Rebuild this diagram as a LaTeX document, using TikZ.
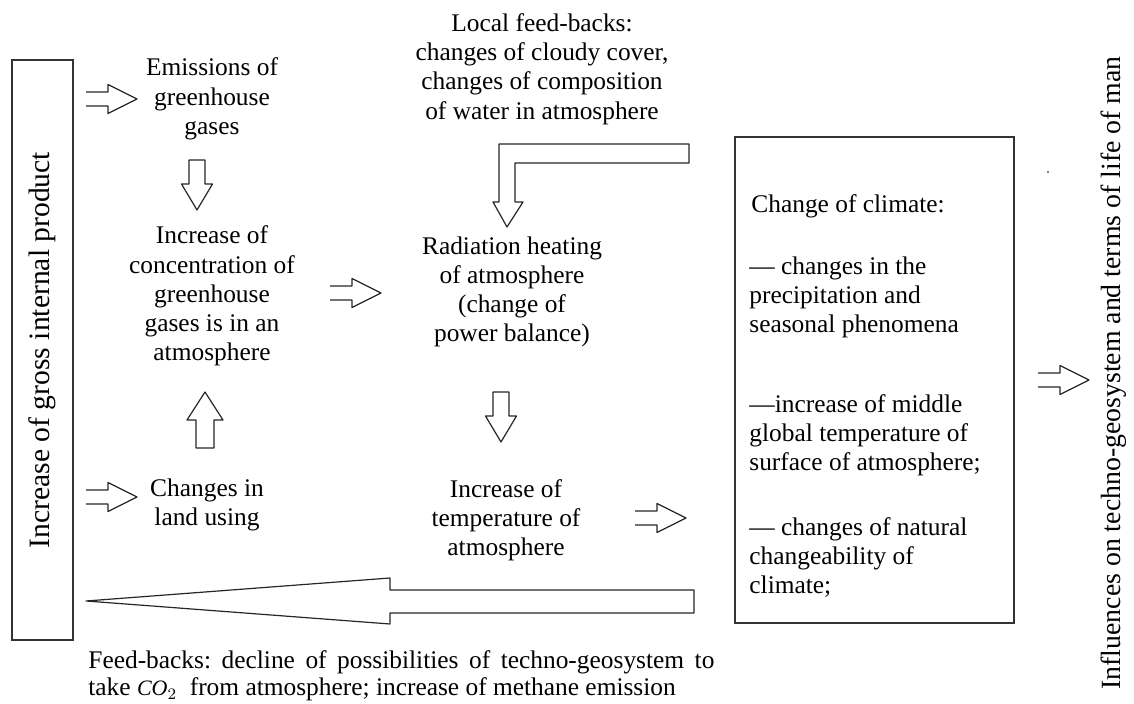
\documentclass[tikz,border=0pt]{standalone}
\usepackage{fontspec}
\setmainfont{Liberation Serif}
\usetikzlibrary{calc}
\frenchspacing
\newcommand{\openright}[1]{\draw[blk] (#1) ++(0,-7) -- ++(22,0) -- ++(0,-7.5) -- ++(29,14.5) -- ++(-29,14.5) -- ++(0,-7.5) -- ++(-22,0);}
\newcommand{\blockdown}[1]{\draw[blk] (#1) -- ++(8,0) -- ++(0,24) -- ++(7.5,0) -- ++(-15.5,26) -- ++(-15.5,-26) -- ++(7.5,0) -- ++(0,-24) -- cycle;}
\newcommand{\blockup}[1]{\draw[blk] (#1) -- ++(9,0) -- ++(0,-28) -- ++(9,0) -- ++(-18,-28) -- ++(-18,28) -- ++(9,0) -- ++(0,28) -- cycle;}
\begin{document}
\begin{tikzpicture}[x=0.5pt,y=-0.5pt,
		txt/.style={align=center,inner sep=0pt,font=\fontsize{12.7}{14.6}\selectfont},
		side/.style={rotate=90,inner sep=0pt,font=\fontsize{14.8}{17}\selectfont},
		frame/.style={draw=black!80,line width=0.8pt},
		blk/.style={draw=black!85,line width=0.6pt,line join=round}]
		\useasboundingbox (0,0) rectangle (1134,704);
		
		% left and right frames
		\node[frame,minimum width=30.5pt,minimum height=290pt] (gdp) at (42.5,350) {};
		\node[side] (gdptxt) at (gdp.center) {Increase of gross internal product};
		\node[frame,minimum width=139.5pt,minimum height=243pt] (clim) at (874.5,380) {};
		\node[side,font=\fontsize{13.9}{16}\selectfont] (infl) at (1114,373) {Influences on techno-geosystem and terms of life of man};
		\fill (1048,172) circle (0.8);
		
		% text blocks
		\node[txt] (emis)  at (212,99)  {Emissions of\\greenhouse\\gases};
		\node[txt] (conc)  at (212,296) {Increase of\\concentration of\\greenhouse\\gases is in an\\atmosphere};
		\node[txt] (land)  at (207,505) {Changes in\\land using};
		\node[txt] (local) at (542,69)  {Local feed-backs:\\changes of cloudy cover,\\changes of composition\\of water in atmosphere};
		\node[txt] (rad)   at (512,292) {Radiation heating\\of atmosphere\\(change of\\power balance)};
		\node[txt] (temp)  at (506,520) {Increase of\\temperature of\\atmosphere};
		
		\node[txt,align=left,anchor=north west] (cc1) at (751,194) {Change of climate:};
		\node[txt,align=left,anchor=north west] (cc2) at (749,256) {— changes in the\\precipitation and\\seasonal phenomena};
		\node[txt,align=left,anchor=north west] (cc3) at (749,394) {—increase of middle\\global temperature of\\surface of atmosphere;};
		\node[txt,align=left,anchor=north west] (cc4) at (749,517) {— changes of natural\\changeability of\\climate;};
		
		\node[txt,align=left,anchor=north west,font=\fontsize{12.7}{13.8}\selectfont] (fb) at (88,650)
		{\makebox[313pt][s]{Feed-backs: decline of possibilities of techno-geosystem to}\\take {\fontsize{11}{12}\selectfont$\mathit{CO}_2$}\ \ from atmosphere; increase of methane emission};
		
		% block arrows
		\openright{86,99}
		\openright{86,497}
		\openright{330,293}
		\openright{635,518}
		\openright{1038,380}
		\blockdown{197,160}
		\blockdown{501,392}
		\blockup{205,448}
		\draw[blk] (689,144) -- (499,144) -- (499,202) -- (493,202) -- (507,227) -- (523,202) -- (515,202) -- (515,163) -- (689,163) -- cycle;
		\draw[blk] (694,590) -- (390,590) -- (390,578) -- (86,601) -- (390,624) -- (390,613) -- (694,613) -- cycle;
		\end{tikzpicture}
\end{document}
